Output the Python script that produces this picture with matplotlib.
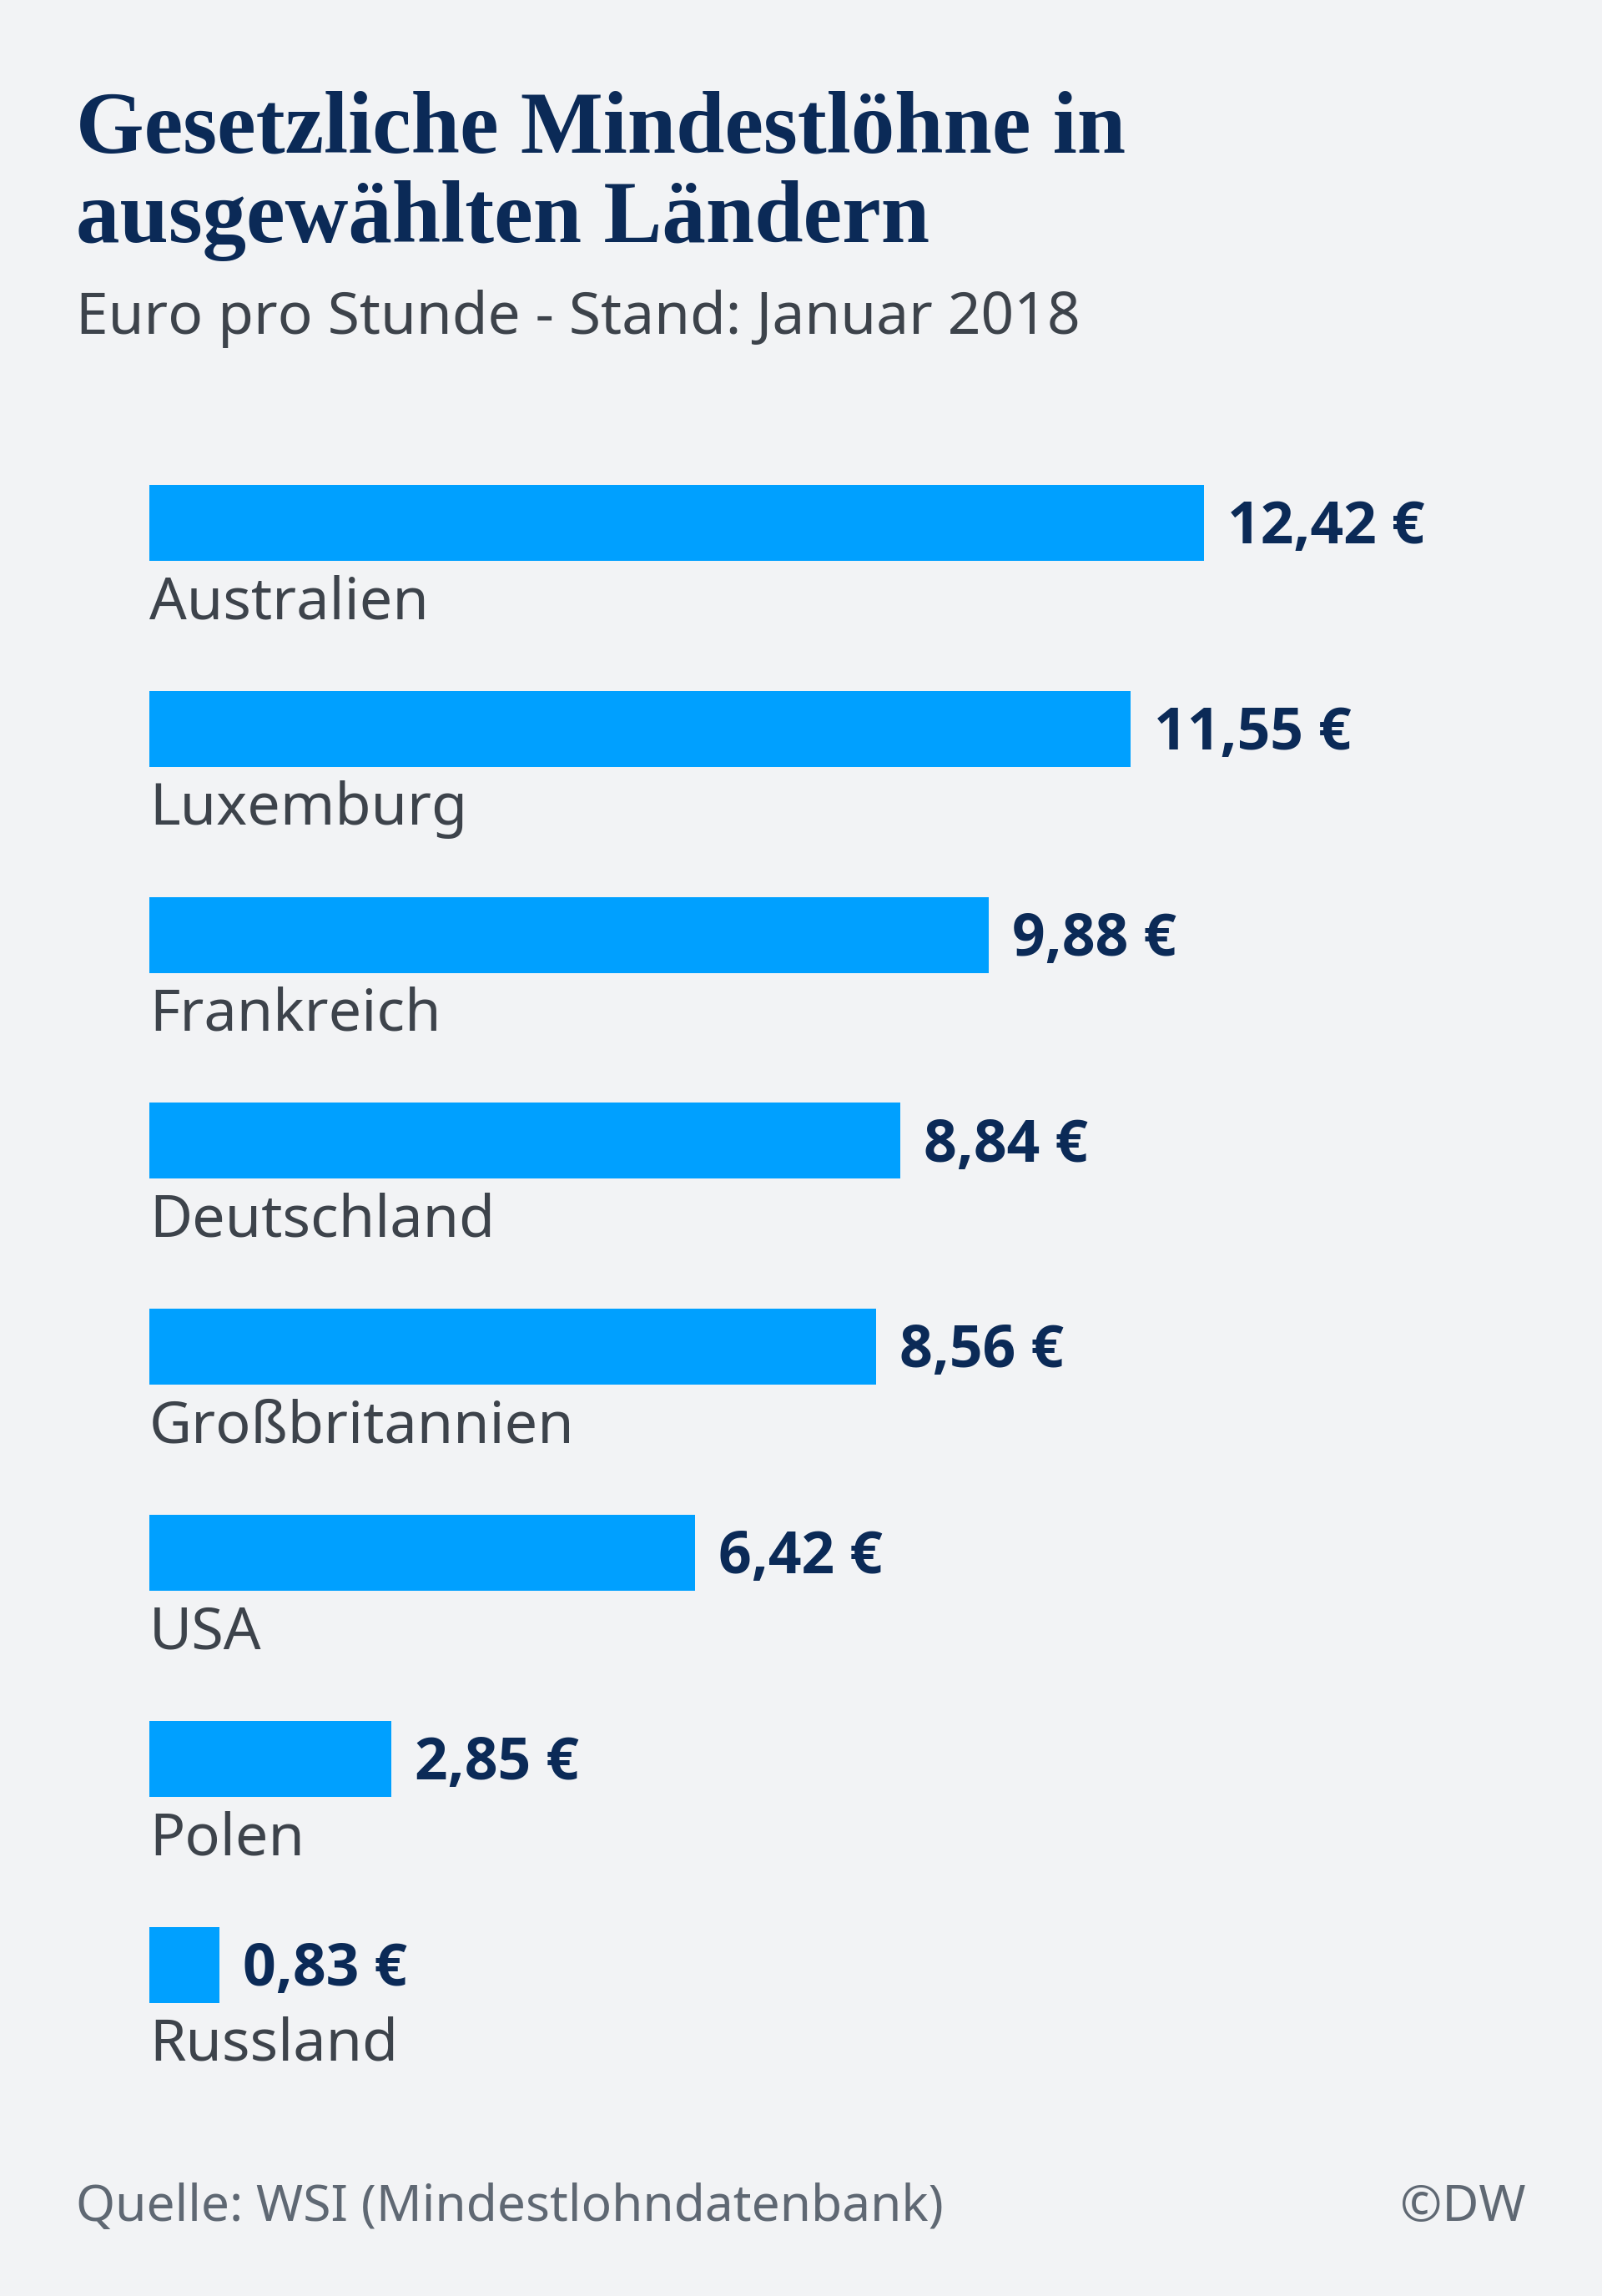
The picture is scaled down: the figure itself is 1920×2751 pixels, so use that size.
import matplotlib
matplotlib.use("Agg")
import matplotlib.pyplot as plt

# Daten: Mindestlohn in Euro pro Stunde, Januar 2018
laender = ["Australien", "Luxemburg", "Frankreich", "Deutschland",
           "Großbritannien", "USA", "Polen", "Russland"]
werte = [12.42, 11.55, 9.88, 8.84, 8.56, 6.42, 2.85, 0.83]
wert_labels = ["12,42 €", "11,55 €", "9,88 €", "8,84 €",
               "8,56 €", "6,42 €", "2,85 €", "0,83 €"]

W, H = 1920, 2751
BG = "#f2f3f5"
BAR = "#00a0ff"
NAVY = "#0b2a57"
GREY = "#3d434b"
FOOT = "#5f6873"


def fx(px):
    return px / W


def fy(py):
    return 1 - py / H


def main():
    fig = plt.figure(figsize=(W / 100, H / 100), dpi=100, facecolor=BG)

    # axes so that one euro ~ 101.8 px and one row ~ 246.8 px
    left_px, top_px, bot_px = 179, 500, 2500
    ax = fig.add_axes([fx(left_px), fy(bot_px), 1 - fx(left_px), (bot_px - top_px) / H])
    ax.set_facecolor(BG)
    ax.set_xlim(0, (W - left_px) / 101.8)
    row = 246.8
    c0 = 626.5
    ax.set_ylim((bot_px - c0) / row, (top_px - c0) / row)
    ax.axis("off")

    pos = list(range(len(laender)))
    ax.barh(pos, werte, height=91 / row, color=BAR, linewidth=0)

    for i, (name, v, lab) in enumerate(zip(laender, werte, wert_labels)):
        ax.text(0, i + 0.465, name, fontsize=50.5, family="Noto Sans",
                color=GREY, va="baseline", ha="left")
        ax.text(v + 28 / 101.8, i + 0.1, lab, fontsize=50, family="Open Sans",
                fontweight="bold", color=NAVY, va="baseline", ha="left")

    # Titel und Untertitel
    fig.text(fx(91), fy(183), "Gesetzliche Mindestlöhne in", fontsize=75.5,
             family="Liberation Serif", fontweight="bold", color=NAVY, va="baseline")
    fig.text(fx(91), fy(290), "ausgewählten Ländern", fontsize=75.5,
             family="Liberation Serif", fontweight="bold", color=NAVY, va="baseline")
    fig.text(fx(91), fy(400), "Euro pro Stunde - Stand: Januar 2018", fontsize=50,
             family="Noto Sans", color=GREY, va="baseline")

    # Quelle
    fig.text(fx(91), fy(2661), "Quelle: WSI (Mindestlohndatenbank)", fontsize=43.5,
             family="Noto Sans", color=FOOT, va="baseline")
    fig.text(fx(1829), fy(2661), "©DW", fontsize=43.5,
             family="Noto Sans", color=FOOT, va="baseline", ha="right")

    fig.savefig("out.png", dpi=100, facecolor=BG)


if __name__ == "__main__":
    main()
